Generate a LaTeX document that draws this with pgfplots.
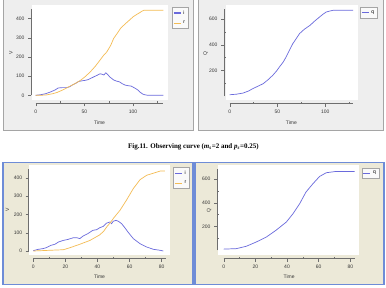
\documentclass[border=0pt]{standalone}
\usepackage{fontspec}
\setmainfont{Liberation Serif}
\newfontfamily\chartfont{Liberation Sans}
\usepackage{pgfplots}
\pgfplotsset{compat=1.18}

\definecolor{serblue}{RGB}{106,106,220}
\definecolor{serorange}{RGB}{244,188,84}
\definecolor{panelgray}{RGB}{238,238,238}
\definecolor{panelline}{RGB}{165,165,165}
\definecolor{xpbeige}{RGB}{236,233,216}
\definecolor{xpblue}{RGB}{110,140,215}
\definecolor{axisgray}{RGB}{110,110,110}
\definecolor{labelgray}{RGB}{55,55,55}

\newcommand{\chartsize}{\chartfont\fontsize{5}{6}\selectfont}

\pgfplotsset{
  chart/.style={
    scale only axis, clip=false,
    axis x line=bottom, axis y line=left,
    axis line style={-, draw=axisgray, line width=0.5pt},
    tick style={axisgray, line width=0.4pt},
    tick align=outside,
    major tick length=3pt,
    ticklabel style={font=\chartsize, text=labelgray},
    /pgf/number format/assume math mode=true,
    label style={font=\chartsize, text=labelgray},
    xlabel={Time},
    extra tick style={tick align=inside, major tick length=2pt},
    legend style={font=\chartsize, draw=panelline, fill=white!96!gray,
      inner sep=1pt, row sep=1.5pt, anchor=north west},
    legend cell align=left,
    legend image code/.code={\draw[##1, line width=1.2pt] (0pt,0pt) -- (7pt,0pt);},
  },
  ser/.style={line width=0.7pt, #1},
}

\begin{document}
\begin{tikzpicture}
% page extent
\fill[white] (0pt,0pt) rectangle (386pt,-287pt);

% upper window panels
\fill[panelgray] (3pt,0pt) rectangle (193pt,-130pt);
\draw[panelline, line width=0.6pt] (3pt,0pt) -- (3pt,-130pt) -- (193pt,-130pt) -- (193pt,0pt);
\fill[panelgray] (198pt,0pt) rectangle (383pt,-130pt);
\draw[panelline, line width=0.6pt] (198pt,0pt) -- (198pt,-130pt) -- (383pt,-130pt) -- (383pt,0pt);
\fill[white] (32pt,-5pt) rectangle (168pt,-100pt);
\fill[white] (226pt,-5pt) rectangle (358pt,-100pt);

% lower window panels
\fill[xpbeige] (3pt,-162pt) rectangle (193pt,-284pt);
\draw[xpblue, line width=1.5pt] (3pt,-162pt) rectangle (193pt,-284pt);
\fill[xpbeige] (195pt,-162pt) rectangle (384pt,-284pt);
\draw[xpblue, line width=1.5pt] (195pt,-162pt) rectangle (384pt,-284pt);
\fill[white] (29pt,-165pt) rectangle (170pt,-255pt);
\fill[white] (218pt,-165pt) rectangle (359pt,-255pt);

% caption
\node[font=\bfseries\fontsize{7}{8}\selectfont] at (193.4pt,-146.7pt)
  {Fig.11. Observing curve (\textit{m}\textsubscript{\textit{s}}=2 and \textit{p}\textsubscript{\textit{s}}=0.25)};

% ---- top left: i and r ----
\begin{axis}[chart, at={(35.7pt,-95pt)}, anchor=south west,
  width=127.6pt, height=86.4pt,
  xmin=0, xmax=131, ymin=0, ymax=450,
  xtick={0,50,100}, extra x ticks={25,75,125}, extra x tick labels={},
  ytick={0,100,200,300,400},
  axis x line shift=8pt, axis y line shift=4.7pt,
  ylabel={V},
  xlabel style={at={(axis description cs:0.5,-0.3125)}, anchor=center},
  ylabel style={at={(axis description cs:-0.194,0.486)}, anchor=center},
  legend style={at={(axis description cs:1.068,1.0185)}},
]
\addplot[ser=serblue] coordinates {
(0,0) (5,3) (10,8) (15,17) (20,28) (23,38) (27,40) (32,40) (35,45) (37,52)
(41,62) (44,72) (48,76) (51,78) (54,82) (56,87) (60,97) (63,104) (66,112)
(68,110) (70,106) (72,117) (74,108) (76,96) (80,80) (83,74) (86,70) (89,60)
(92,53) (95,50) (98,48) (102,37) (105,27) (107,17) (110,6) (112,3) (115,0) (131,0)};
\addlegendentry{i}
\addplot[ser=serorange] coordinates {
(0,0) (5,0) (11,2) (18,9) (22,15) (27,26) (31,36) (35,47) (40,60) (46,78)
(51,98) (56,122) (61,150) (66,183) (70,210) (73,226) (77,260) (80,296)
(84,325) (87,348) (90,363) (93,377) (97,395) (100,409) (104,422) (107,431)
(109,438) (111,443) (131,443)};
\addlegendentry{r}
\end{axis}

% ---- top right: q ----
\begin{axis}[chart, at={(229.7pt,-95.7pt)}, anchor=south west,
  width=123.3pt, height=87.2pt,
  xmin=0, xmax=129, ymin=0, ymax=680,
  xtick={0,50,100}, extra x ticks={25,75,125}, extra x tick labels={},
  ytick={200,400,600}, extra y ticks={100,300,500}, extra y tick labels={},
  axis x line shift=7.6pt, axis y line shift=5.7pt,
  ylabel={Q},
  xlabel style={at={(axis description cs:0.5,-0.302)}, anchor=center},
  ylabel style={at={(axis description cs:-0.195,0.49)}, anchor=center},
  legend style={at={(axis description cs:1.057,1.017)}},
]
\addplot[ser=serblue] coordinates {
(0,10) (7,14) (14,23) (20,40) (24,57) (30,78) (35,96) (40,126) (45,161)
(49,195) (52,226) (56,265) (59,304) (62,350) (66,408) (70,452) (73,486)
(78,520) (84,551) (89,585) (94,616) (98,640) (101,655) (105,663) (108,668) (129,668)};
\addlegendentry{q}
\end{axis}

% ---- bottom left: i and r ----
\begin{axis}[chart, at={(33.3pt,-250.7pt)}, anchor=south west,
  width=132.4pt, height=82.1pt,
  xmin=0, xmax=82.5, ymin=0, ymax=450,
  xtick={0,20,40,60,80}, extra x ticks={10,30,50,70}, extra x tick labels={},
  ytick={0,100,200,300,400},
  axis x line shift=7.6pt, axis y line shift=4.6pt,
  ylabel={V},
  xlabel style={at={(axis description cs:0.5,-0.317)}, anchor=center},
  ylabel style={at={(axis description cs:-0.196,0.496)}, anchor=center},
  legend style={at={(axis description cs:1.057,1.019)}},
]
\addplot[ser=serblue] coordinates {
(0,2) (3,9) (6,13) (8,18) (11,31) (13.5,37) (15.6,49) (18.7,58) (21.8,64)
(25,73) (27,73) (29,68) (31,82) (34,95) (37,113) (39.5,117) (41.5,128)
(43.6,135) (45.7,153) (47.8,159) (48.8,150) (49.8,163) (51.5,168) (53,163)
(55,150) (57,128) (59,104) (62.3,68) (66.5,40) (70.6,22) (75,9) (79,4) (81,0)};
\addlegendentry{i}
\addplot[ser=serorange] coordinates {
(0,0) (10.4,4) (18.7,7) (22.8,18) (29,37) (35.3,58) (41.5,89) (44,110)
(46,135) (48,155) (50,180) (54,223) (58,278) (62.3,342) (66.5,391)
(70.6,415) (75,427) (79,438) (82,438)};
\addlegendentry{r}
\end{axis}

% ---- bottom right: q ----
\begin{axis}[chart, at={(223.7pt,-250pt)}, anchor=south west,
  width=130.9pt, height=80.9pt,
  xmin=0, xmax=82.7, ymin=0, ymax=680,
  xtick={0,20,40,60,80}, extra x ticks={10,30,50,70}, extra x tick labels={},
  ytick={200,400,600}, extra y ticks={100,300,500}, extra y tick labels={},
  axis x line shift=8.3pt, axis y line shift=6.7pt,
  ylabel={Q},
  xlabel style={at={(axis description cs:0.5,-0.33)}, anchor=center},
  ylabel style={at={(axis description cs:-0.112,0.49)}, anchor=center},
  legend style={at={(axis description cs:1.054,1.017)}},
]
\addplot[ser=serblue] coordinates {
(0,10) (8,14) (14.3,34) (20.6,70) (27,112) (33,168) (39.6,238) (43.8,308)
(48,392) (52,490) (56.4,560) (60.6,621) (64.8,652) (71,663) (82.7,663)};
\addlegendentry{q}
\end{axis}
\end{tikzpicture}
\end{document}
